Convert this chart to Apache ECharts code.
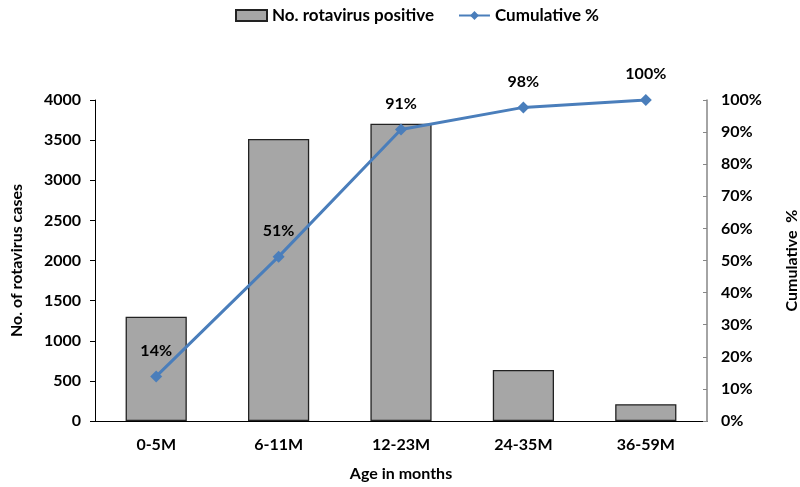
<!DOCTYPE html>
<html><head><meta charset="utf-8">
<script src="https://cdn.jsdelivr.net/npm/echarts@6/dist/echarts.min.js"></script>
<style>html,body{margin:0;padding:0;background:#fff}#c{width:800px;height:487px}</style>
</head><body><div id="c"></div>
<script>
var categories = ['0-5M', '6-11M', '12-23M', '24-35M', '36-59M'];
var positiveCases = [1300, 3515, 3705, 635, 210];
var cumulativePct = [13.9, 51.2, 90.8, 97.7, 100];
var leftTicks = {min: 0, max: 4000, interval: 500};
var rightTicks = {min: 0, max: 100, interval: 10};

var FONT = 'Lato';
var chart = echarts.init(document.getElementById('c'), null, {renderer: 'canvas'});
chart.setOption({
  animation: false,
  textStyle: {fontFamily: FONT},
  legend: {
    top: 2, left: 230, itemGap: 24, itemWidth: 31, itemHeight: 11,
    textStyle: {fontFamily: FONT, fontWeight: 'bold', fontSize: 17, color: '#000'},
    data: [
      {name: 'No. rotavirus positive', icon: 'rect'},
      {name: 'Cumulative %'}
    ]
  },
  grid: {left: 95, right: 93, top: 100, bottom: 66, containLabel: false, outerBoundsMode: 'none'},
  xAxis: {
    type: 'category', data: categories,
    name: 'Age in months', nameLocation: 'middle', nameGap: 45,
    nameTextStyle: {fontFamily: FONT, fontWeight: 'bold', fontSize: 16, color: '#000'},
    axisLine: {lineStyle: {color: '#000', width: 1}},
    axisTick: {show: false},
    axisLabel: {fontFamily: FONT, fontWeight: 'bold', fontSize: 16, color: '#000', margin: 16}
  },
  yAxis: [{
    type: 'value', min: leftTicks.min, max: leftTicks.max, interval: leftTicks.interval,
    name: 'No. of rotavirus cases', nameLocation: 'middle', nameGap: 70, nameRotate: 90,
    nameTextStyle: {fontFamily: FONT, fontWeight: 'bold', fontSize: 16, color: '#000'},
    axisLine: {show: true, lineStyle: {color: '#000', width: 1}},
    axisTick: {show: true, length: 5, lineStyle: {color: '#000'}},
    splitLine: {show: false},
    axisLabel: {fontFamily: FONT, fontWeight: 'bold', fontSize: 16, color: '#000', margin: 14,
      formatter: function (v) { return String(v); }}
  }, {
    type: 'value', position: 'right', min: rightTicks.min, max: rightTicks.max, interval: rightTicks.interval,
    name: 'Cumulative  %', nameLocation: 'middle', nameGap: 77, nameRotate: 90,
    nameTextStyle: {fontFamily: FONT, fontWeight: 'bold', fontSize: 16, color: '#000'},
    axisLine: {show: true, lineStyle: {color: '#868686', width: 1.5}},
    axisTick: {show: true, inside: true, length: 4, lineStyle: {color: '#868686'}},
    splitLine: {show: false},
    axisLabel: {fontFamily: FONT, fontWeight: 'bold', fontSize: 16, color: '#000', margin: 14,
      formatter: function (v) { return v + '%'; }}
  }],
  series: [{
    name: 'No. rotavirus positive', type: 'bar', data: positiveCases, barWidth: '50%',
    itemStyle: {color: '#a6a6a6', borderColor: '#222', borderWidth: 1.3}
  }, {
    name: 'Cumulative %', type: 'line', yAxisIndex: 1, data: cumulativePct,
    symbol: 'diamond', symbolSize: 12,
    lineStyle: {color: '#4a7ebb', width: 3},
    itemStyle: {color: '#4a7ebb'},
    label: {show: true, position: 'top', distance: 12,
      fontFamily: FONT, fontWeight: 'bold', fontSize: 16, color: '#000',
      formatter: function (p) { return Math.round(p.value) + '%'; }}
  }]
});
</script></body></html>
